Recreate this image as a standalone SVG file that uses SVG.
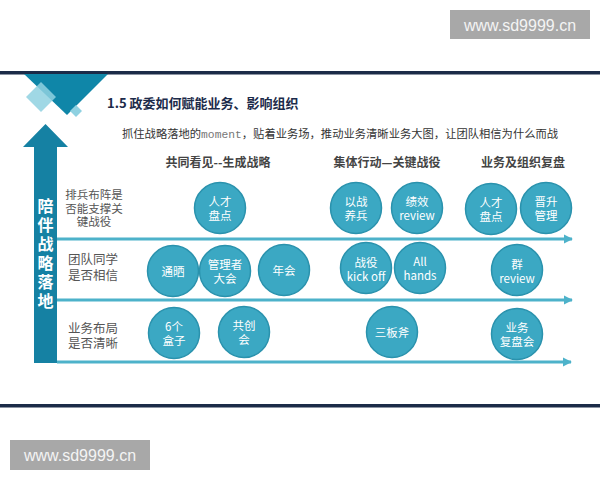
<svg xmlns="http://www.w3.org/2000/svg" width="600" height="480" viewBox="0 0 600 480">
<defs>
<style>
.wm{fill:#a8a8a8}
.wmt{font-family:"Liberation Sans",Arial,sans-serif;font-size:16px;fill:#f4f4f4;text-anchor:middle}
.navy{fill:#1b2b48}
.title{font-family:"Noto Sans CJK SC","Liberation Sans",sans-serif;font-size:13px;font-weight:bold;fill:#1c2b4a}
.sub{font-family:"Noto Sans CJK SC","Liberation Sans",sans-serif;font-size:11.3px;fill:#333}
.mono{font-family:"Liberation Mono","DejaVu Sans Mono",monospace;fill:#777}
.hdr{font-family:"Noto Sans CJK SC","Liberation Sans",sans-serif;font-size:12px;font-weight:bold;fill:#444;text-anchor:middle}
.lbl{font-family:"Noto Sans CJK SC","Liberation Sans",sans-serif;font-size:12.5px;fill:#555;text-anchor:middle}
.lbl1{font-size:11.5px}
.vt{font-family:"Noto Sans CJK SC","Liberation Sans",sans-serif;font-size:16px;font-weight:bold;fill:#fff;letter-spacing:3px}
.c{fill:#3ba8c3;stroke:#2a92ad;stroke-width:1.5}
.ct{font-family:"Noto Sans CJK SC","Liberation Sans",sans-serif;font-size:11.5px;fill:#fff;text-anchor:middle}
.ln{stroke:#4db2ca;stroke-width:3;fill:none}
</style>
<marker id="ah" viewBox="0 0 10 10" refX="9" refY="5" markerWidth="3" markerHeight="3.2" orient="auto" markerUnits="strokeWidth">
<path d="M0,0 L10,5 L0,10 Z" fill="#4db2ca"/>
</marker>
</defs>
<rect width="600" height="480" fill="#fff"/>

<g id="watermark-top">
<rect class="wm" x="450" y="10" width="140" height="29"/>
<text class="wmt" x="520" y="31">www.sd9999.cn</text>
</g>
<g id="watermark-bottom">
<rect class="wm" x="10" y="440" width="140" height="30"/>
<text class="wmt" x="80" y="461">www.sd9999.cn</text>
</g>

<rect class="navy" x="0" y="71" width="600" height="3.5"/>
<rect class="navy" x="0" y="404" width="600" height="3.5"/>

<g id="decoration">
<polygon points="24,74 108,74 67,115" fill="#0f86a8"/>
<polygon points="26,97 41,82 56,97 41,112" fill="#8fd1e1" opacity="0.85"/>
<polygon points="70,111 76,105 82,111 76,117" fill="#8fd1e1"/>
</g>

<g id="title">
<text class="title" x="107" y="108">1.5 政委如何赋能业务、影响组织</text>
<text class="sub" x="122" y="138">抓住战略落地的<tspan class="mono">moment</tspan>，贴着业务场，推动业务清晰业务大图，让团队相信为什么而战</text>
</g>

<g id="headers">
<text class="hdr" x="218" y="167">共同看见--生成战略</text>
<text class="hdr" x="387" y="167">集体行动—关键战役</text>
<text class="hdr" x="523" y="167">业务及组织复盘</text>
</g>

<g id="main-arrow">
<polygon points="45.5,124 68,147 57,147 57,363 34,363 34,147 23,147" fill="#1581a3"/>
<text class="vt" x="45.5" y="198" writing-mode="tb">陪伴战略落地</text>
</g>

<g id="connectors">
<line class="ln" x1="57" y1="239" x2="572" y2="239" marker-end="url(#ah)"/>
<line class="ln" x1="57" y1="300" x2="572" y2="300" marker-end="url(#ah)"/>
<line class="ln" x1="57" y1="362" x2="571" y2="362" marker-end="url(#ah)"/>
</g>

<g id="row-labels">
<text class="lbl lbl1" x="94" y="199">排兵布阵是<tspan x="94" y="212.5">否能支撑关</tspan><tspan x="94" y="226">键战役</tspan></text>
<text class="lbl" x="93" y="263.5">团队同学<tspan x="93" y="279.5">是否相信</tspan></text>
<text class="lbl" x="93" y="332.5">业务布局<tspan x="93" y="347.5">是否清晰</tspan></text>
</g>

<g id="n-rencai1"><circle class="c" cx="220" cy="208" r="25.5"/><text class="ct" x="220" y="206">人才<tspan x="220" y="220">盘点</tspan></text></g>
<g id="n-yizhan"><circle class="c" cx="356" cy="208" r="25.5"/><text class="ct" x="356" y="206">以战<tspan x="356" y="220">养兵</tspan></text></g>
<g id="n-jixiao"><circle class="c" cx="417" cy="208" r="25.5"/><text class="ct" x="417" y="206">绩效<tspan x="417" y="220">review</tspan></text></g>
<g id="n-rencai2"><circle class="c" cx="491" cy="209" r="25.5"/><text class="ct" x="491" y="207">人才<tspan x="491" y="221">盘点</tspan></text></g>
<g id="n-jinsheng"><circle class="c" cx="546" cy="208" r="25.5"/><text class="ct" x="546" y="206">晋升<tspan x="546" y="220">管理</tspan></text></g>

<g id="n-tongshai"><circle class="c" cx="173" cy="271" r="25.5"/><text class="ct" x="173" y="275.5">通晒</text></g>
<g id="n-guanlizhe"><circle class="c" cx="225" cy="271" r="25.5"/><text class="ct" x="225" y="269">管理者<tspan x="225" y="283">大会</tspan></text></g>
<g id="n-nianhui"><circle class="c" cx="284" cy="270" r="25.5"/><text class="ct" x="284" y="274.5">年会</text></g>
<g id="n-kickoff"><circle class="c" cx="366" cy="268" r="25.5"/><text class="ct" x="366" y="267">战役<tspan x="366" y="281">kick off</tspan></text></g>
<g id="n-allhands"><circle class="c" cx="420" cy="268" r="25.5"/><text class="ct" x="420" y="266">All<tspan x="420" y="280">hands</tspan></text></g>
<g id="n-qun"><circle class="c" cx="517" cy="270" r="25.5"/><text class="ct" x="517" y="269">群<tspan x="517" y="283">review</tspan></text></g>

<g id="n-hezi"><circle class="c" cx="174" cy="333" r="25.5"/><text class="ct" x="174" y="331">6个<tspan x="174" y="345">盒子</tspan></text></g>
<g id="n-gongchuang"><circle class="c" cx="244" cy="332" r="25.5"/><text class="ct" x="244" y="330">共创<tspan x="244" y="344">会</tspan></text></g>
<g id="n-sanbanfu"><circle class="c" cx="392" cy="332" r="25.5"/><text class="ct" x="392" y="336.5">三板斧</text></g>
<g id="n-fupan"><circle class="c" cx="517" cy="334" r="25.5"/><text class="ct" x="517" y="332">业务<tspan x="517" y="346">复盘会</tspan></text></g>
</svg>
